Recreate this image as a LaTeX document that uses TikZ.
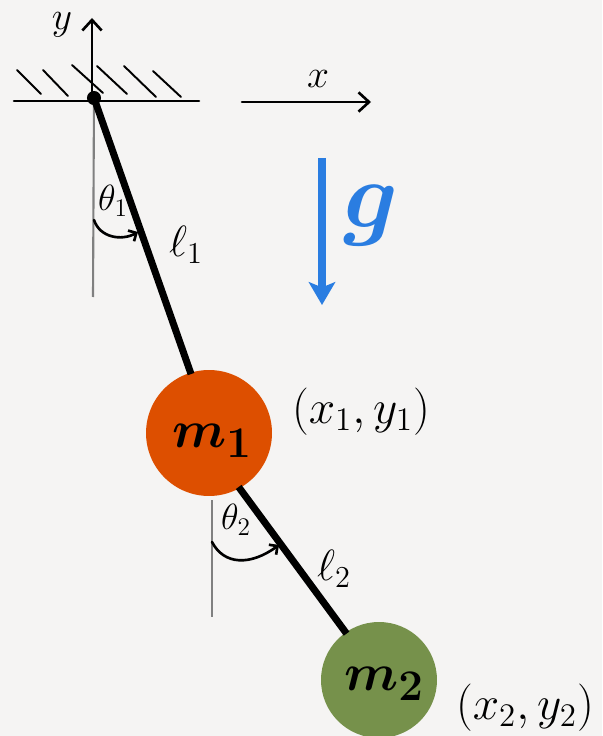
\documentclass[tikz,border=0pt]{standalone}
\usepackage{amsmath}
\usetikzlibrary{arrows.meta}
\definecolor{paper}{HTML}{F5F4F3}
\definecolor{massone}{HTML}{DD4F00}
\definecolor{masstwo}{HTML}{76914B}
\definecolor{gravblue}{HTML}{2A7DE1}
\tikzset{
    pen/.style={line width=1.5pt, line cap=round},
    rod/.style={line width=4pt, shorten >=-1pt, shorten <=-1pt},
    plumb/.style={gray, line width=1.2pt},
    barb/.style={-{Straight Barb[length=6pt, width=11pt]}},
    mass/.style={circle, inner sep=0pt, text=black},
    tag/.style={inner sep=0pt}
}
\begin{document}
\begin{tikzpicture}[x=0.02cm, y=-0.02cm]
            % Paper and picture size
            \fill[paper] (0,0) rectangle (602,736);
            \useasboundingbox (0,0) rectangle (602,736);
            \clip (0,0) rectangle (602,736);
            % Anchor points
            \coordinate (groundL) at (14,101);
            \coordinate (groundR) at (199,101);
            \coordinate (yStart) at (92,98);
            \coordinate (yTip) at (92,18);
            \coordinate (xStart) at (242,102);
            \coordinate (xTip) at (371,102);
            \coordinate (gStart) at (322,158);
            \coordinate (gTip) at (322,305);
            \coordinate (plumbOneEnd) at (93,297);
            \coordinate (plumbTwoStart) at (212,500);
            \coordinate (plumbTwoEnd) at (212,617);
            % Masses and pivot
            \node[mass, fill=massone, minimum size=2.52cm] (massOne) at (209,433) {};
            \node[mass, fill=masstwo, minimum size=2.32cm] (massTwo) at (379,680) {};
            \node[circle, fill=black, inner sep=0pt, minimum size=8pt] (pivot) at (94,98) {};
            % Ceiling with hatching
            \draw[pen] (groundL) -- (groundR);
            \foreach \xa/\ya/\xb/\yb in {17/70/41/94, 43/70/68/96, 72/65/103/93, 97/66/127/94, 124/66/156/97, 153/71/181/97}
                \draw[pen, line width=1.1pt] (\xa,\ya) -- (\xb,\yb);
            % Axes and gravity
            \draw[pen, barb] (yStart) -- (yTip);
            \draw[pen, barb] (xStart) -- (xTip);
            \draw[gravblue, line width=4.6pt, -{Stealth[length=13pt, width=15pt, inset=3pt]}] (gStart) -- (gTip);
            % Vertical reference lines
            \draw[plumb] (pivot.center) -- (plumbOneEnd);
            \draw[plumb] (plumbTwoStart) -- (plumbTwoEnd);
            % Rods
            \draw[rod] (pivot.center) -- (massOne.107);
            \draw[rod] (massOne.-61) -- (massTwo.125);
            % Angle arcs
            \coordinate (arcOneStart) at (94,220);
            \coordinate (arcOneEnd) at (138,232);
            \coordinate (arcTwoStart) at (212,542);
            \coordinate (arcTwoEnd) at (279,545);
            \draw[pen, -{Straight Barb[length=3.5pt, width=7pt]}] (arcOneStart) .. controls (100,238) and (122,241) .. (arcOneEnd);
            \draw[pen, -{Straight Barb[length=3.5pt, width=7pt]}] (arcTwoStart) .. controls (224,565) and (250,566) .. (arcTwoEnd);
            % Labels
            \node[tag, scale=1.3] (yLabel) at (62,25) {\LARGE $y$};
            \node[tag, scale=1.3] (xLabel) at (318,79) {\LARGE $x$};
            \node[tag, text=gravblue, scale=2.6] (gLabel) at (371,216) {\huge $\boldsymbol{g}$};
            \node[tag] (thetaOne) at (113,201) {\huge $\theta_1$};
            \node[tag, scale=1.2] (lengthOne) at (186,245) {\huge $\ell_1$};
            \node[tag] (thetaTwo) at (236,520) {\huge $\theta_2$};
            \node[tag, scale=1.2] (lengthTwo) at (334,569) {\huge $\ell_2$};
            \node[tag, scale=1.3] (posOne) at (361,412) {\huge $(x_1,y_1)$};
            \node[tag, scale=1.3] (posTwo) at (525,708) {\huge $(x_2,y_2)$};
            \node[tag, scale=1.2] (nameOne) at (212,441) {\Huge $\boldsymbol{m_1}$};
            \node[tag, scale=1.2] (nameTwo) at (384,684) {\Huge $\boldsymbol{m_2}$};
        \end{tikzpicture}
\end{document}
